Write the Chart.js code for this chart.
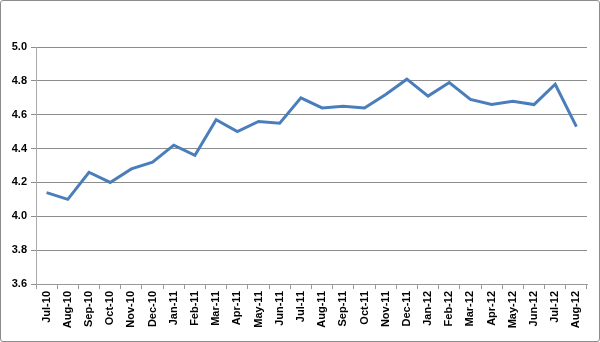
<!DOCTYPE html>
<html>
<head>
<meta charset="utf-8">
<script src="https://cdn.jsdelivr.net/npm/chart.js@4/dist/chart.umd.min.js"></script>
<style>
html,body{margin:0;padding:0;background:#fff;}
#wrap{position:absolute;left:0;top:0;width:600px;height:342px;box-sizing:border-box;border:1px solid #8c8c8c;border-radius:3px;}
canvas{display:block;}
</style>
</head>
<body>
<div id="wrap"><canvas id="c" width="598" height="340"></canvas></div>
<script>
const categories = ["Jul-10","Aug-10","Sep-10","Oct-10","Nov-10","Dec-10","Jan-11","Feb-11","Mar-11","Apr-11","May-11","Jun-11","Jul-11","Aug-11","Sep-11","Oct-11","Nov-11","Dec-11","Jan-12","Feb-12","Mar-12","Apr-12","May-12","Jun-12","Jul-12","Aug-12"];
const values = [4.14,4.10,4.26,4.20,4.28,4.32,4.42,4.36,4.57,4.50,4.56,4.55,4.70,4.64,4.65,4.64,4.72,4.81,4.71,4.79,4.69,4.66,4.68,4.66,4.78,4.53];
const yMin = 3.6, yMax = 5.0, yStep = 0.2;

new Chart(document.getElementById('c'), {
  type: 'line',
  data: {
    labels: categories,
    datasets: [{
      data: values,
      borderColor: '#4A7EBB',
      borderWidth: 3,
      pointRadius: 0,
      tension: 0,
      fill: false
    }]
  },
  options: {
    responsive: false,
    animation: false,
    plugins: { legend: { display: false }, tooltip: { enabled: false } },
    layout: { padding: { top: 46, right: 12, left: 0, bottom: 0 } },
    scales: {
      x: {
        offset: true,
        grid: { display: true, offset: true, drawOnChartArea: false, drawTicks: true, tickLength: 5, color: '#999' },
        border: { display: true, color: '#999', width: 1 },
        ticks: {
          autoSkip: false, maxRotation: 90, minRotation: 90, padding: 2,
          color: '#000', font: { family: 'Liberation Sans, Arial, sans-serif', size: 11, weight: 'bold' }
        },
        afterFit: s => { s.height = 57; }
      },
      y: {
        min: yMin, max: yMax,
        grid: { color: '#8c8c8c', tickLength: 5, drawTicks: true },
        border: { display: true, color: '#aaa', width: 1 },
        ticks: {
          stepSize: yStep, padding: 4,
          callback: v => v.toFixed(1),
          color: '#000', font: { family: 'Liberation Sans, Arial, sans-serif', size: 11, weight: 'bold' }
        },
        afterFit: s => { s.width = 35; }
      }
    }
  }
});
</script>
</body>
</html>
